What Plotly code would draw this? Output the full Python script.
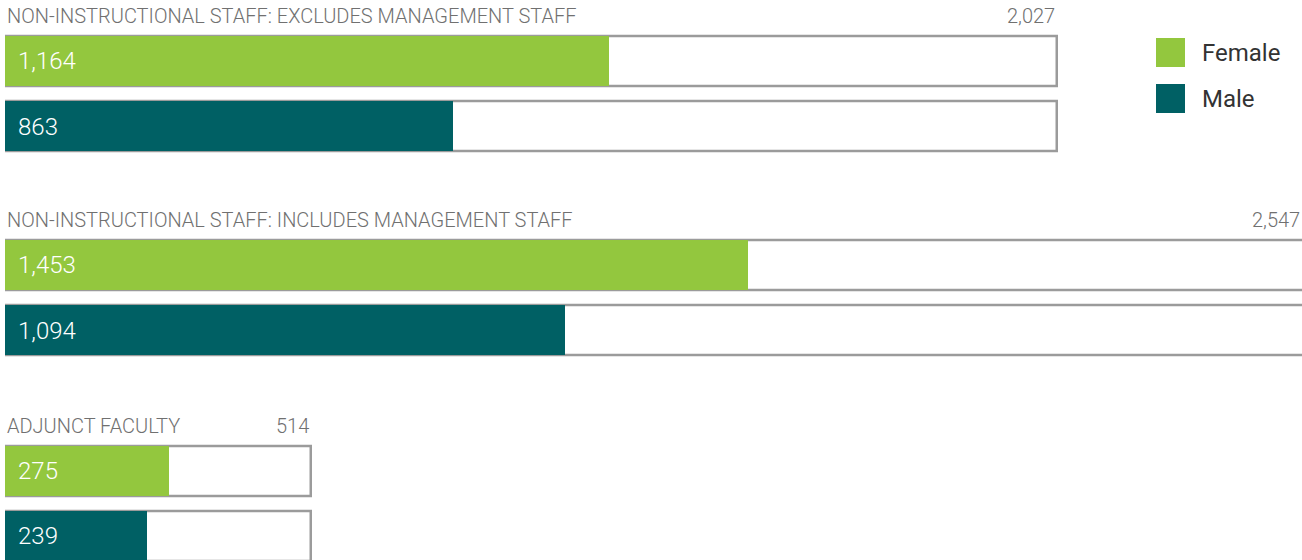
import plotly.graph_objects as go
from plotly.subplots import make_subplots

# data
groups = [
    "NON-INSTRUCTIONAL STAFF: EXCLUDES MANAGEMENT STAFF",
    "NON-INSTRUCTIONAL STAFF: INCLUDES MANAGEMENT STAFF",
    "ADJUNCT FACULTY",
]
female = [1164, 1453, 275]
male = [863, 1094, 239]
totals = [2027, 2547, 514]
series = ["Female", "Male"]

GREEN = "#93c73e"
TEAL = "#006064"
OUTLINE = "#9b9b9b"
FONT = "Roboto"

# each panel has its own scale, like the original graphic
x_max = [2499, 2535, 2178]
y_domains = [[0.7156, 0.9496], [0.3513, 0.5853], [0.0, 0.2174]]
y_ranges = [[-0.5, 1.5], [-0.5, 1.5], [-0.359, 1.5]]
BAR_W = 0.763

fig = make_subplots(rows=3, cols=1)

for i in range(3):
    r = i + 1
    # outline box = total
    fig.add_trace(go.Bar(
        x=[totals[i], totals[i]], y=[0, 1], orientation="h", width=BAR_W,
        marker=dict(color="white", line=dict(color=OUTLINE, width=2.5)),
        showlegend=False, hoverinfo="skip"), row=r, col=1)
    # filled bars
    fig.add_trace(go.Bar(
        x=[male[i], female[i]], y=[0, 1], orientation="h", width=BAR_W,
        marker=dict(color=[TEAL, GREEN], line=dict(width=0)),
        showlegend=False, hoverinfo="skip"), row=r, col=1)

    xa = "x" if i == 0 else f"x{r}"
    ya = "y" if i == 0 else f"y{r}"
    title_font = dict(family=FONT, size=20, color="#707070", weight=300)
    fig.add_annotation(x=0, y=1, yshift=45, xref=xa, yref=ya, text=groups[i],
                       xanchor="left", yanchor="middle", showarrow=False,
                       font=title_font)
    fig.add_annotation(x=min(totals[i], x_max[i]), y=1, yshift=45, xref=xa, yref=ya,
                       text=f"{totals[i]:,}", xanchor="right", yanchor="middle",
                       showarrow=False, font=title_font)
    for yv, val in [(1, female[i]), (0, male[i])]:
        fig.add_annotation(x=0, y=yv, xref=xa, yref=ya, text=f"{val:,}",
                           xanchor="left", yanchor="middle", xshift=11,
                           showarrow=False,
                           font=dict(family=FONT, size=24, color="white", weight=300))

    fig.update_xaxes(range=[0, x_max[i]], domain=[5 / 1302, 1], visible=False,
                     fixedrange=True, row=r, col=1)
    fig.update_yaxes(range=y_ranges[i], domain=y_domains[i], visible=False,
                     fixedrange=True, row=r, col=1)

# legend drawn by hand for the large square keys
legend_colors = [GREEN, TEAL]
for k, name in enumerate(series):
    top = 38 + k * 46
    fig.add_shape(type="rect", xref="paper", yref="paper",
                  x0=1156 / 1302, x1=1185 / 1302,
                  y0=1 - (top + 29) / 560, y1=1 - top / 560,
                  fillcolor=legend_colors[k], line=dict(width=0))
    fig.add_annotation(xref="paper", yref="paper", x=1200 / 1302,
                       y=1 - (top + 14.5) / 560, text=name, xanchor="left",
                       yanchor="middle", showarrow=False,
                       font=dict(family=FONT, size=24, color="#333333"))

fig.update_layout(
    width=1302, height=560,
    margin=dict(l=0, r=0, t=0, b=0),
    barmode="overlay",
    bargap=0,
    plot_bgcolor="white",
    paper_bgcolor="white",
    showlegend=False,
)

fig.write_html("out.html", config={"displayModeBar": False},
               post_script="document.body.style.margin='0';")
